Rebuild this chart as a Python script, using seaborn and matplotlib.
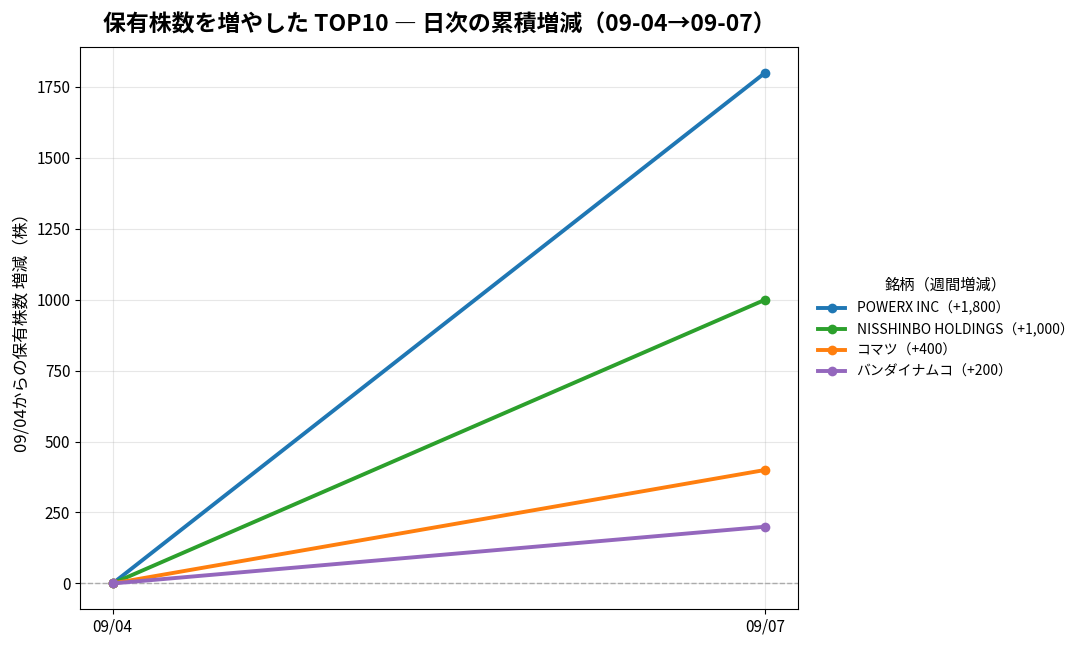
import matplotlib
matplotlib.use("Agg")
import matplotlib.pyplot as plt
import seaborn as sns
import pandas as pd

dates = ["09/04", "09/07"]
names = ["POWERX INC", "NISSHINBO HOLDINGS", "コマツ", "バンダイナムコ"]
changes = [1800, 1000, 400, 200]
series = {
    "POWERX INC": [0, 1800],
    "NISSHINBO HOLDINGS": [0, 1000],
    "コマツ": [0, 400],
    "バンダイナムコ": [0, 200],
}
colors = ["#1f77b4", "#2ca02c", "#ff7f0e", "#9467bd"]
title = "保有株数を増やした TOP10 \u2015 日次の累積増減（09-04→09-07）"

plt.rcParams['font.family'] = ['Noto Sans CJK JP', 'DejaVu Sans']

labels = [f"{n}（+{c:,}）" for n, c in zip(names, changes)]
rows = []
for n, lab in zip(names, labels):
    for d, v in zip(dates, series[n]):
        rows.append({"date": d, "value": v, "label": lab})
df = pd.DataFrame(rows)

fig = plt.figure(figsize=(10.87, 6.49), dpi=100)
ax = fig.add_axes([80/1087, 1-609/649, (798-80)/1087, (609-47)/649])

sns.lineplot(data=df, x="date", y="value", hue="label", hue_order=labels,
             palette=colors, marker="o", markersize=7, markeredgewidth=0,
             linewidth=2.8, ax=ax, sort=False)

ax.axhline(0, color="#aaaaaa", linestyle="--", linewidth=1, zorder=0)
ax.grid(True, alpha=0.3)
ax.set_xlabel("")
ax.set_ylabel("09/04からの保有株数 増減（株）", fontsize=12)
ax.tick_params(labelsize=11)
ax.set_title(title, fontsize=16.5, fontweight="bold", pad=11)

leg = ax.legend(title="銘柄（週間増減）", loc="center left", bbox_to_anchor=(1.01, 0.5),
                frameon=False, fontsize=10, title_fontsize=11)

fig.savefig("out.png", dpi=100)
